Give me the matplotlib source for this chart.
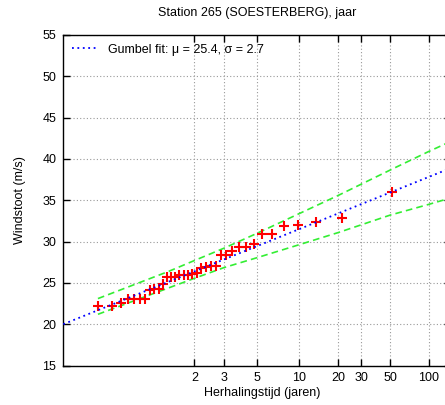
import numpy as np
import matplotlib
matplotlib.use('Agg')
import matplotlib.pyplot as plt

plt.rcParams['font.family'] = ['Liberation Sans', 'DejaVu Sans']

# herhalingstijd (jaren) van de gerangschikte jaarmaxima
ret_period = [52.0, 21.41, 13.48, 9.838, 7.745, 6.386, 5.433, 4.727, 4.184,
              3.753, 3.402, 3.111, 2.866, 2.657, 2.476, 2.318, 2.179, 2.056,
              1.946, 1.848, 1.758, 1.677, 1.603, 1.536, 1.474, 1.417, 1.363,
              1.314, 1.268, 1.226, 1.186, 1.148, 1.113, 1.080, 1.049, 1.0196]
# windstoot (m/s)
windstoot = [36.0, 32.9, 32.4, 32.0, 31.9, 30.9, 30.9, 29.7, 29.3,
             29.3, 28.8, 28.4, 28.4, 27.1, 27.0, 26.9, 26.8, 26.2,
             26.1, 26.0, 25.9, 25.9, 25.7, 25.7, 25.7, 24.9, 24.3,
             24.2, 24.1, 23.1, 23.1, 23.0, 23.0, 22.6, 22.2, 22.2]

# gumbel fit
mu = 25.4
sigma = 2.7

# betrouwbaarheidsband
band_T = [1.0196, 1.5, 2, 3, 5, 10, 20, 50, 100, 150]
band_upper = [23.1, 26.4, 27.7, 29.2, 31.0, 33.35, 35.6, 38.65, 40.9, 42.15]
band_lower = [21.2, 24.4, 25.55, 26.85, 28.05, 29.6, 31.1, 33.2, 34.5, 35.3]

xticks_T = [2, 3, 5, 10, 20, 30, 50, 100]
yticks = [15, 20, 25, 30, 35, 40, 45, 50, 55]


def gumbel_x(T):
    T = np.asarray(T, dtype=float)
    return -np.log(-np.log(1.0 - 1.0 / T))


fig = plt.figure(figsize=(4.45, 4.05), dpi=100)
ax = fig.add_axes([0.1422, 0.0975, 0.871, 0.8161])

ax.plot(gumbel_x(band_T), band_upper, color='#33ee33', lw=1.2,
        linestyle=(0, (4, 2.5)), zorder=3)
ax.plot(gumbel_x(band_T), band_lower, color='#33ee33', lw=1.2,
        linestyle=(0, (4, 2.5)), zorder=3)
ax.plot(gumbel_x(ret_period), windstoot, linestyle='none', marker='+',
        color='red', markersize=6.5, mew=1.5, zorder=4)
ax.axline((0, mu), slope=sigma, color='blue', lw=1.3,
          linestyle=(0, (1, 2)), zorder=5,
          label='Gumbel fit: \u03bc = %.1f, \u03c3 = %.1f' % (mu, sigma))

ax.set_xlim(-2, 5)
ax.set_ylim(15, 55)
ax.set_xticks(gumbel_x(xticks_T))
ax.set_xticklabels([str(t) for t in xticks_T])
ax.set_yticks(yticks)

ax.tick_params(direction='in', length=5, width=1, top=True, right=True,
               labelsize=9, pad=5)
ax.grid(True, color='#999999', lw=0.8, linestyle=(0, (1, 2)))
for s in ax.spines.values():
    s.set_linewidth(1.0)

ax.set_title('Station 265 (SOESTERBERG), jaar', fontsize=9, pad=14)
ax.set_xlabel('Herhalingstijd (jaren)', fontsize=9)
ax.xaxis.set_label_coords(0.512, -0.066)
ax.set_ylabel('Windstoot (m/s)', fontsize=9)
ax.yaxis.set_label_coords(-0.097, 0.5)

ax.legend(loc='upper left', frameon=False, fontsize=9, handlelength=2.1,
          handletextpad=0.8, borderaxespad=0.3)

fig.savefig('out.png', dpi=100)
